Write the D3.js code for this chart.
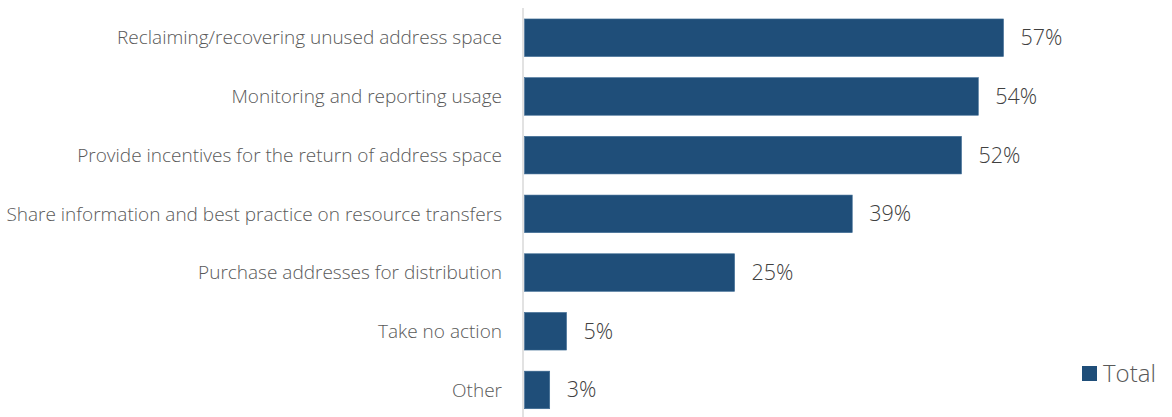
<!DOCTYPE html>
<html>
<head>
<meta charset="utf-8">
<script src="https://cdn.jsdelivr.net/npm/d3@7"></script>
<style>
  html, body { margin: 0; padding: 0; background: #fff; }
  svg { display: block; }
</style>
</head>
<body>
<div id="chart"></div>
<script>
// Survey responses: preferred actions on address space
const categories = [
  "Reclaiming/recovering unused address space",
  "Monitoring and reporting usage",
  "Provide incentives for the return of address space",
  "Share information and best practice on resource transfers",
  "Purchase addresses for distribution",
  "Take no action",
  "Other"
];
const totals = [57, 54, 52, 39, 25, 5, 3];
const seriesName = "Total";

const width = 1172, height = 417;
const barColor = "#1f4e79";
const font = "'Open Sans', sans-serif";

const svg = d3.select("#chart").append("svg")
  .attr("width", width).attr("height", height);

const x = d3.scaleLinear().domain([0, 57]).range([524.5, 1003.5]);
const y = d3.scaleBand().domain(categories)
  .range([8.4, 419.3]).paddingInner(0.36).paddingOuter(0.18);

// bars
svg.append("g").selectAll("rect").data(totals).join("rect")
  .attr("x", x(0))
  .attr("y", (d, i) => y(categories[i]))
  .attr("width", d => x(d) - x(0))
  .attr("height", y.bandwidth())
  .attr("fill", barColor)
  .attr("stroke", "#3d6a93")
  .attr("stroke-width", 0.6);

// category axis line
svg.append("line")
  .attr("x1", 523).attr("x2", 523)
  .attr("y1", 8).attr("y2", height)
  .attr("stroke", "#d9d9d9").attr("stroke-width", 1.5);

// category labels
svg.append("g").selectAll("text").data(categories).join("text")
  .attr("x", 502)
  .attr("y", d => y(d) + y.bandwidth() / 2)
  .attr("dy", "0.35em")
  .attr("text-anchor", "end")
  .attr("font-family", font)
  .attr("font-weight", 300)
  .attr("font-size", 19)
  .attr("fill", "#595959")
  .text(d => d);

// value labels
svg.append("g").selectAll("text").data(totals).join("text")
  .attr("x", d => x(d) + 17)
  .attr("y", (d, i) => y(categories[i]) + y.bandwidth() / 2)
  .attr("dy", "0.35em")
  .attr("font-family", font)
  .attr("font-weight", 300)
  .attr("font-size", 21.5)
  .attr("fill", "#404040")
  .text(d => d + "%");

// legend
const lg = svg.append("g");
lg.append("rect").attr("x", 1082).attr("y", 366).attr("width", 15).attr("height", 15)
  .attr("fill", barColor);
lg.append("text").attr("x", 1103).attr("y", 373.5).attr("dy", "0.35em")
  .attr("font-family", font).attr("font-weight", 300).attr("font-size", 24).attr("fill", "#595959")
  .text(seriesName);
</script>
</body>
</html>
